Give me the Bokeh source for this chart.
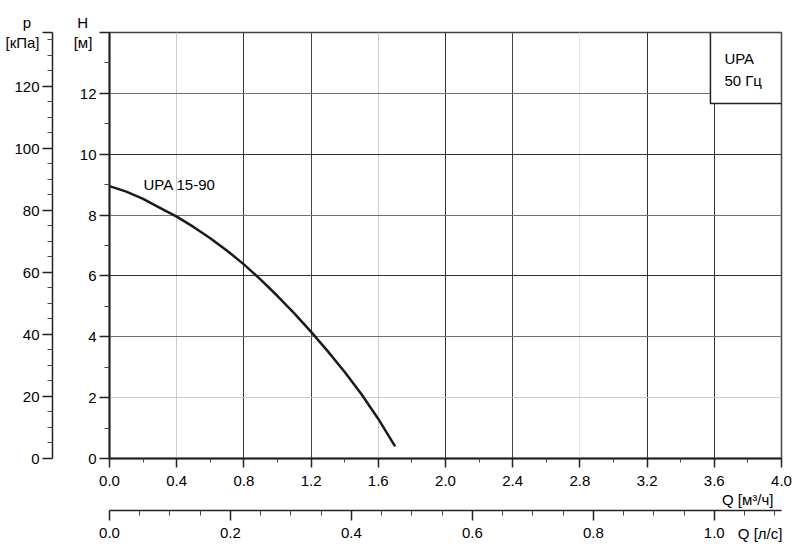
from bokeh.plotting import figure
from bokeh.models import (LinearAxis, Range1d, FixedTicker, Grid,
                          Label, BoxAnnotation, NumeralTickFormatter)
from bokeh.embed import file_html
from bokeh.resources import INLINE

# ---- data ----
q_m3h = [0.0, 0.1, 0.2, 0.3, 0.4, 0.5, 0.6, 0.7, 0.8, 0.9, 1.0, 1.1, 1.2, 1.3, 1.4, 1.5, 1.6, 1.70]
h_m = [8.95, 8.77, 8.53, 8.24, 7.95, 7.61, 7.24, 6.83, 6.38, 5.88, 5.34, 4.77, 4.16, 3.52, 2.84, 2.11, 1.30, 0.40]
curve_name = "UPA 15-90"
box_lines = ["UPA", "50 Гц"]
KPA_PER_M = 9.81
M3H_PER_LS = 3.6
Q_MAX = 4.0
H_MAX = 14.0
P_TOP = H_MAX * KPA_PER_M

h_major = [0, 2, 4, 6, 8, 10, 12, 14]
h_minor = [1, 3, 5, 7, 9, 11, 13]
p_major = [0, 20, 40, 60, 80, 100, 120, P_TOP]
p_minor = [5, 10, 15, 25, 30, 35, 45, 50, 55, 65, 70, 75, 85, 90, 95, 105, 110, 115, 125, 130, 135]
q_major = [0.0, 0.4, 0.8, 1.2, 1.6, 2.0, 2.4, 2.8, 3.2, 3.6, 4.0]
q_minor = [0.2, 0.6, 1.0, 1.4, 1.8, 2.2, 2.6, 3.0, 3.4, 3.8]
ls_major = [0.0, 0.2, 0.4, 0.6, 0.8, 1.0]
ls_minor = [0.05, 0.1, 0.15, 0.25, 0.3, 0.35, 0.45, 0.5, 0.55, 0.65, 0.7, 0.75,
            0.85, 0.9, 0.95, 1.05, 1.1]

NB = "\u00a0"
FONT = "Liberation Sans"

p = figure(width=792, height=551, x_range=Range1d(0, Q_MAX), y_range=Range1d(0, H_MAX),
           output_backend="svg", toolbar_location=None,
           min_border_left=109, min_border_right=11, min_border_top=32, min_border_bottom=93)
p.background_fill_color = "white"
p.border_fill_color = "white"
p.outline_line_color = "#444444"
p.outline_line_width = 1.5
p.xgrid.visible = False
p.ygrid.visible = False

p.extra_y_ranges = {"kpa": Range1d(0, P_TOP)}
p.extra_x_ranges = {"ls": Range1d(0, Q_MAX / M3H_PER_LS)}


def style_axis(ax, tick_out, minor_out, standoff, lw=2):
    ax.axis_line_color = "#222222"
    ax.axis_line_width = lw
    ax.major_tick_line_color = "#222222"
    ax.major_tick_line_width = 1.5
    ax.minor_tick_line_color = "#444444"
    ax.minor_tick_line_width = 1
    ax.major_tick_in = 0
    ax.minor_tick_in = 0
    ax.major_tick_out = tick_out
    ax.minor_tick_out = minor_out
    ax.major_label_standoff = standoff
    ax.major_label_text_font = FONT
    ax.major_label_text_font_size = "15px"
    ax.major_label_text_color = "#000000"
    ax.axis_label_text_font = FONT
    ax.axis_label_text_font_size = "15px"
    ax.axis_label_text_font_style = "normal"
    ax.axis_label_text_color = "#000000"


# main H axis (inner left)
hax = p.yaxis[0]
hax.ticker = FixedTicker(ticks=h_major, minor_ticks=h_minor)
style_axis(hax, 10, 5, 3)
hax.major_label_overrides = {14: "H" + NB * 2 + "\n[м]" + NB}
hax.axis_label = " "
hax.axis_label_text_font_size = "10px"
hax.axis_label_standoff = 4

# main Q axis (inner bottom)
qax = p.xaxis[0]
qax.ticker = FixedTicker(ticks=q_major, minor_ticks=q_minor)
qax.formatter = NumeralTickFormatter(format="0.0")
style_axis(qax, 9, 4, 8)
qax.axis_label = NB * 145 + "Q [м³/ч]"
qax.axis_label_standoff = 2

# p axis (outer left)
pax = LinearAxis(y_range_name="kpa", ticker=FixedTicker(ticks=p_major, minor_ticks=p_minor))
style_axis(pax, 10, 5, 3, lw=1.5)
pax.major_label_overrides = {P_TOP: "p" + NB * 2 + "\n[кПа]"}
p.add_layout(pax, "left")

# l/s axis (outer bottom)
lax = LinearAxis(x_range_name="ls", ticker=FixedTicker(ticks=ls_major, minor_ticks=ls_minor),
                 formatter=NumeralTickFormatter(format="0.0"))
style_axis(lax, 10, 5, 7, lw=1.5)
lax.axis_label = NB * 151 + "Q [л/с]"
lax.axis_label_standoff = -16
p.add_layout(lax, "below")

# grids with varying shades like the reference
for ticks, col in [([0.4, 1.6], "#cccccc"), ([2.8], "#e6e6e6"),
                   ([1.2, 2.4], "#444444"), ([0.8, 2.0, 3.2, 3.6], "#333333")]:
    p.add_layout(Grid(dimension=0, ticker=FixedTicker(ticks=ticks),
                      grid_line_color=col, grid_line_width=1))
for ticks, col in [([2], "#cccccc"), ([4, 8, 12], "#707070"), ([6, 10], "#333333")]:
    p.add_layout(Grid(dimension=1, ticker=FixedTicker(ticks=ticks),
                      grid_line_color=col, grid_line_width=1))

# curve
p.line(q_m3h, h_m, line_width=2.5, line_color="#1a1a1a", line_join="round")

# curve label
p.add_layout(Label(x=0.202, y=9.01, text=curve_name, text_font=FONT, text_font_size="15px",
                   text_color="#000000", text_baseline="alphabetic", text_align="left"))

# box in top-right
p.add_layout(BoxAnnotation(left=3.577, right=Q_MAX, bottom=11.67, top=H_MAX,
                           fill_color="white", fill_alpha=1.0,
                           line_color="#222222", line_width=1.5, line_alpha=1.0))
p.add_layout(Label(x=3.66, y=13.14, text=box_lines[0], text_font=FONT, text_font_size="15px",
                   text_color="#000000", text_baseline="alphabetic"))
p.add_layout(Label(x=3.66, y=12.42, text=box_lines[1], text_font=FONT, text_font_size="15px",
                   text_color="#000000", text_baseline="alphabetic"))

open("out.html", "w").write(file_html(p, INLINE))
